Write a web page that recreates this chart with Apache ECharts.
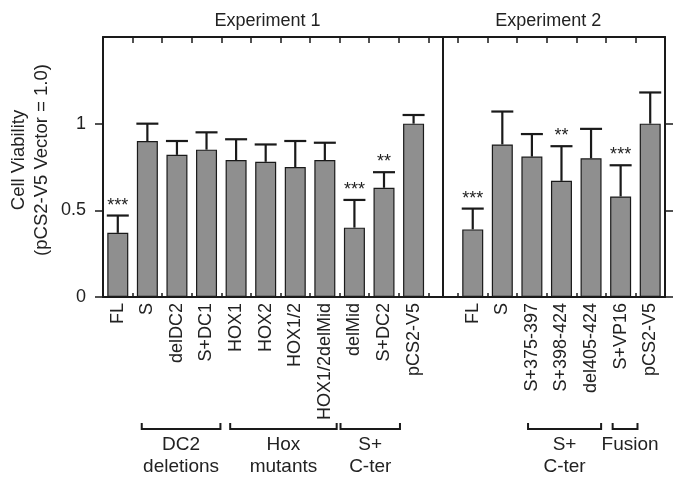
<!DOCTYPE html>
<html>
<head>
<meta charset="utf-8">
<script src="https://cdn.jsdelivr.net/npm/echarts@6/dist/echarts.min.js"></script>
<style>html,body{margin:0;padding:0;background:#fff;}#chart{width:683px;height:486px;}</style>
</head>
<body>
<div id="chart"></div>
<script>
// ---- data ----
const exp1Categories = ['FL','S','delDC2','S+DC1','HOX1','HOX2','HOX1/2','HOX1/2delMid','delMid','S+DC2','pCS2-V5'];
const exp1Values     = [0.37, 0.90, 0.82, 0.85, 0.79, 0.78, 0.75, 0.79, 0.40, 0.63, 1.00];
const exp1Errors     = [0.10, 0.10, 0.08, 0.10, 0.12, 0.10, 0.15, 0.10, 0.16, 0.09, 0.05];
const exp1Stars      = ['***','','','','','','','','***','**',''];

const exp2Categories = ['FL','S','S+375-397','S+398-424','del405-424','S+VP16','pCS2-V5'];
const exp2Values     = [0.39, 0.88, 0.81, 0.67, 0.80, 0.58, 1.00];
const exp2Errors     = [0.12, 0.19, 0.13, 0.20, 0.17, 0.18, 0.18];
const exp2Stars      = ['***','','','**','','***',''];

const yTickValues = [0, 0.5, 1];
const experimentTitles = ['Experiment 1','Experiment 2'];
// groups: positions in category index units on the combined axis
const groupBrackets = [
  {from: 0.81, to: 3.47, lines: ['DC2','deletions']},
  {from: 3.80, to: 7.40, lines: ['Hox','mutants']},
  {from: 7.53, to: 9.54, lines: ['S+','C-ter']},
  {from: 13.87, to: 16.34, lines: ['S+','C-ter']},
  {from: 16.73, to: 17.57, lines: ['Fusion'], dx: 5}
];

// ---- build combined axis ----
const labels = exp1Categories.concat([''], exp2Categories);
const keys = labels.map((l, i) => 'c' + i);
const gapKey = 'c' + exp1Categories.length;
const values = exp1Values.concat(['-'], exp2Values);
const errors = exp1Errors.concat([null], exp2Errors);
const stars = exp1Stars.concat([''], exp2Stars);

const errData = [], starData = [];
values.forEach((v, i) => {
  if (v === '-') return;
  errData.push([i, v, v + errors[i]]);
  if (stars[i]) starData.push([i, v + errors[i], stars[i]]);
});

const FONT = 'Liberation Sans, Arial, Helvetica, sans-serif';
const INK = '#1a1a1a';

const chart = echarts.init(document.getElementById('chart'));
const option = {
  animation: false,
  backgroundColor: '#fff',
  grid: {left: 103, right: 18, top: 37, bottom: 189, containLabel: false},
  xAxis: [{
    type: 'category', position: 'bottom', data: keys,
    axisLine: {show: true, onZero: false, lineStyle: {color: INK, width: 2}},
    axisTick: {show: true, inside: true, length: 4, interval: 0, lineStyle: {color: INK, width: 1.5}},
    axisLabel: {
      interval: 0, rotate: 90, margin: 6, fontSize: 18, color: '#222', fontFamily: FONT,
      formatter: (val, idx) => labels[idx]
    },
    splitLine: {show: false}
  }, {
    type: 'category', position: 'top', data: keys,
    axisLine: {show: true, onZero: false, lineStyle: {color: INK, width: 2}},
    axisTick: {show: true, inside: true, length: 6, interval: 0, lineStyle: {color: INK, width: 1.5}},
    axisLabel: {show: false},
    splitLine: {show: false}
  }],
  yAxis: [{
    type: 'value', position: 'left', min: 0, max: 1.5, interval: 0.5,
    axisLine: {show: true, onZero: false, lineStyle: {color: INK, width: 2}},
    axisTick: {show: true, inside: false, length: 8, customValues: yTickValues, lineStyle: {color: INK, width: 1.5}},
    axisLabel: {
      margin: 17, fontSize: 18, color: '#222', fontFamily: FONT,
      formatter: v => (yTickValues.indexOf(v) >= 0 ? String(v) : '')
    },
    splitLine: {show: false}
  }, {
    type: 'value', position: 'right', min: 0, max: 1.5, interval: 0.5,
    axisLine: {show: true, onZero: false, lineStyle: {color: INK, width: 2}},
    axisTick: {show: true, inside: false, length: 8, customValues: yTickValues, lineStyle: {color: INK, width: 1.5}},
    axisLabel: {show: false},
    splitLine: {show: false}
  }],
  series: [{
    type: 'bar', data: values, barWidth: 21, xAxisIndex: 0, yAxisIndex: 0,
    itemStyle: {color: '#8f8f8f', borderColor: INK, borderWidth: 1.2},
    z: 2,
    markLine: {
      silent: true, symbol: ['none','none'], animation: false,
      label: {show: false},
      lineStyle: {color: INK, width: 2, type: 'solid'},
      data: [{xAxis: gapKey}]
    }
  }, {
    type: 'custom', data: errData, xAxisIndex: 0, yAxisIndex: 0, z: 3,
    encode: {x: 0, y: [1, 2]},
    renderItem: (params, api) => {
      const i = api.value(0);
      const p0 = api.coord([i, api.value(1)]);
      const p1 = api.coord([i, api.value(2)]);
      const hw = 11;
      return {
        type: 'group',
        children: [
          {type: 'line', shape: {x1: p0[0], y1: p0[1], x2: p1[0], y2: p1[1]}, style: {stroke: INK, lineWidth: 2.2}},
          {type: 'line', shape: {x1: p1[0] - hw, y1: p1[1], x2: p1[0] + hw, y2: p1[1]}, style: {stroke: INK, lineWidth: 2.2}}
        ]
      };
    }
  }, {
    type: 'custom', data: starData, xAxisIndex: 0, yAxisIndex: 0, z: 4,
    encode: {x: 0, y: 1},
    renderItem: (params, api) => {
      const i = api.value(0);
      const p = api.coord([i, api.value(1)]);
      return {
        type: 'text', x: p[0], y: p[1] - 1,
        style: {text: starData[params.dataIndex][2], fontSize: 18, fontFamily: FONT, fill: '#222', align: 'center', verticalAlign: 'bottom'}
      };
    }
  }]
};
chart.setOption(option);

// ---- annotations placed through the axis scale ----
const c0 = chart.convertToPixel({xAxisIndex: 0}, keys[0]);
const c1 = chart.convertToPixel({xAxisIndex: 0}, keys[1]);
const step = c1 - c0;
const px = pos => c0 + pos * step;

const graphics = [];
// Y axis name
graphics.push({
  type: 'text', x: 30, y: 160, rotation: Math.PI / 2,
  style: {text: 'Cell Viability\n(pCS2-V5 Vector = 1.0)', fontSize: 18.5, fontFamily: FONT, fill: '#222',
          align: 'center', verticalAlign: 'middle', lineHeight: 23}
});
// experiment titles
const titlePos = [5.06, 14.55];
experimentTitles.forEach((t, k) => {
  graphics.push({
    type: 'text', x: px(titlePos[k]), y: 21,
    style: {text: t, fontSize: 18, fontFamily: FONT, fill: '#222', align: 'center', verticalAlign: 'middle'}
  });
});
// brackets
const bY = 429, bTop = 423;
groupBrackets.forEach(g => {
  const x1 = px(g.from), x2 = px(g.to);
  graphics.push({
    type: 'polyline',
    shape: {points: [[x1, bTop], [x1, bY], [x2, bY], [x2, bTop]]},
    style: {stroke: INK, lineWidth: 2, fill: null}
  });
  const cx = (x1 + x2) / 2 + (g.dx || 0);
  g.lines.forEach((ln, j) => {
    graphics.push({
      type: 'text', x: cx, y: 445 + j * 22,
      style: {text: ln, fontSize: 19, fontFamily: FONT, fill: '#222', align: 'center', verticalAlign: 'middle'}
    });
  });
});
chart.setOption({graphic: graphics});
</script>
</body>
</html>
